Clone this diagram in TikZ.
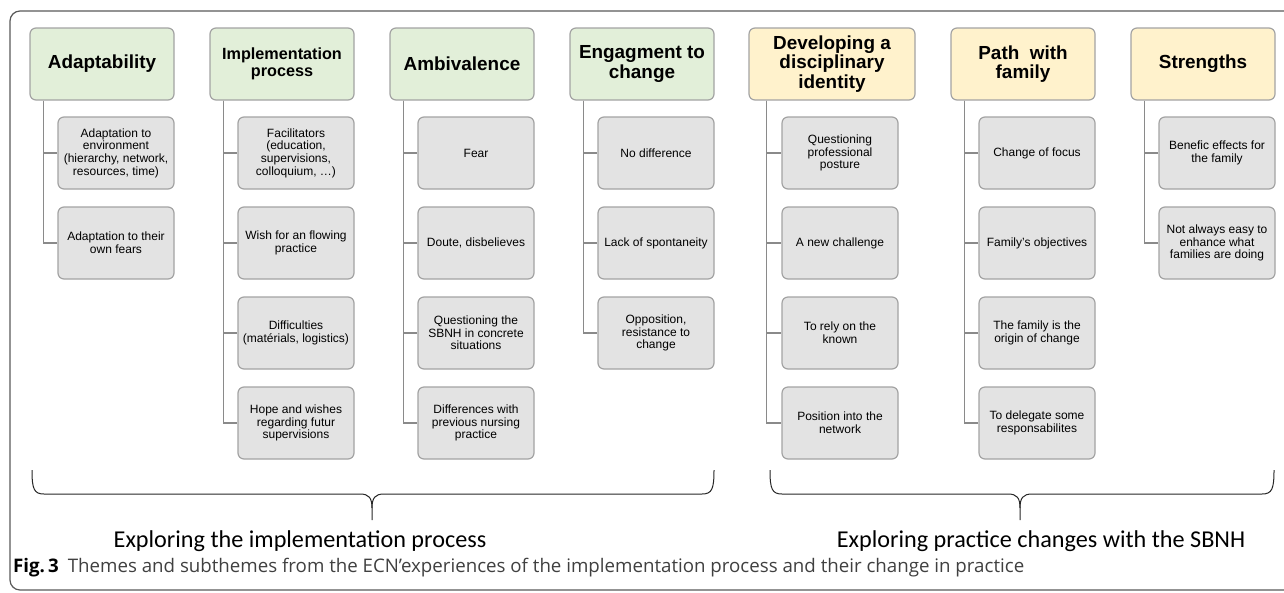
\documentclass[tikz,border=0pt]{standalone}
\usepackage{fontspec}
\setmainfont{Liberation Sans}
\newfontfamily\bracefont{Carlito}
\newfontfamily\capfont{Open Sans}
\definecolor{implfill}{HTML}{E2EFD9}
\definecolor{practfill}{HTML}{FFF2CC}
\definecolor{subfill}{HTML}{E3E3E3}
\definecolor{boxline}{HTML}{A3A3A3}
\definecolor{treeline}{HTML}{8A8A8A}

\begin{document}
\begin{tikzpicture}[x=1pt, y=-1pt,
        theme/.style={rectangle, rounded corners=6pt, draw=boxline, line width=1.2pt, minimum width=144pt, minimum height=72pt, align=center, inner sep=2pt, font=\bfseries\fontsize{18.9}{19.2}\selectfont},
        implbox/.style={theme, fill=implfill},
        practbox/.style={theme, fill=practfill},
        sub/.style={rectangle, rounded corners=6pt, draw=boxline, line width=1.2pt, fill=subfill, minimum width=116pt, minimum height=72pt, align=center, inner sep=2pt, font=\fontsize{12}{12.6}\selectfont},
        branch/.style={draw=treeline, line width=1.6pt},
        brace/.style={draw=black!85, line width=1pt}]
        \useasboundingbox (0,0) rectangle (1284,592);

        % Outer frame
        \draw[draw=black!65, line width=1.2pt, rounded corners=10pt] (10,11) rectangle (1300,590);

        % Draw themes
        \node[implbox] (1) at (102,64) {Adaptability};
        \node[implbox, font=\bfseries\fontsize{16.2}{16.8}\selectfont] (2) at (282,64) {Implementation\\process};
        \node[implbox] (3) at (462,64) {Ambivalence};
        \node[implbox] (4) at (642,64) {Engagment to\\change};
        \node[practbox, minimum width=166pt] (5) at (832,64) {Developing a\\disciplinary\\identity};
        \node[practbox] (6) at (1023,64) {Path~~with\\family};
        \node[practbox] (7) at (1203,64) {Strengths};

        % Draw subthemes
        \node[sub] (1a) at (116,153) {Adaptation to\\environment\\(hierarchy, network,\\resources, time)};
        \node[sub] (1b) at (116,243) {Adaptation to their\\own fears};

        \node[sub] (2a) at (296,153) {Facilitators\\(education,\\supervisions,\\colloquium, …)};
        \node[sub] (2b) at (296,243) {Wish for an flowing\\practice};
        \node[sub] (2c) at (296,333) {Difficulties\\(matérials, logistics)};
        \node[sub] (2d) at (296,423) {Hope and wishes\\regarding futur\\supervisions};

        \node[sub] (3a) at (476,153) {Fear};
        \node[sub] (3b) at (476,243) {Doute, disbelieves};
        \node[sub] (3c) at (476,333) {Questioning the\\SBNH in concrete\\situations};
        \node[sub] (3d) at (476,423) {Differences with\\previous nursing\\practice};

        \node[sub] (4a) at (656,153) {No difference};
        \node[sub] (4b) at (656,243) {Lack of spontaneity};
        \node[sub] (4c) at (656,333) {Opposition,\\resistance to\\change};

        \node[sub] (5a) at (840,153) {Questioning\\professional\\posture};
        \node[sub] (5b) at (840,243) {A new challenge};
        \node[sub] (5c) at (840,333) {To rely on the\\known};
        \node[sub] (5d) at (840,423) {Position into the\\network};

        \node[sub] (6a) at (1037,153) {Change of focus};
        \node[sub] (6b) at (1037,243) {Family’s objectives};
        \node[sub] (6c) at (1037,333) {The family is the\\origin of change};
        \node[sub] (6d) at (1037,423) {To delegate some\\responsabilites};

        \node[sub] (7a) at (1217,153) {Benefic effects for\\the family};
        \node[sub] (7b) at (1217,243) {Not always easy to\\enhance what\\families are doing};

        % Draw connections
        \draw[branch] ([xshift=14pt]1.south west) |- (1a.west);
        \draw[branch] ([xshift=14pt]1.south west) |- (1b.west);

        \draw[branch] ([xshift=14pt]2.south west) |- (2a.west);
        \draw[branch] ([xshift=14pt]2.south west) |- (2b.west);
        \draw[branch] ([xshift=14pt]2.south west) |- (2c.west);
        \draw[branch] ([xshift=14pt]2.south west) |- (2d.west);

        \draw[branch] ([xshift=14pt]3.south west) |- (3a.west);
        \draw[branch] ([xshift=14pt]3.south west) |- (3b.west);
        \draw[branch] ([xshift=14pt]3.south west) |- (3c.west);
        \draw[branch] ([xshift=14pt]3.south west) |- (3d.west);

        \draw[branch] ([xshift=14pt]4.south west) |- (4a.west);
        \draw[branch] ([xshift=14pt]4.south west) |- (4b.west);
        \draw[branch] ([xshift=14pt]4.south west) |- (4c.west);

        \draw[branch] ([xshift=18pt]5.south west) |- (5a.west);
        \draw[branch] ([xshift=18pt]5.south west) |- (5b.west);
        \draw[branch] ([xshift=18pt]5.south west) |- (5c.west);
        \draw[branch] ([xshift=18pt]5.south west) |- (5d.west);

        \draw[branch] ([xshift=14pt]6.south west) |- (6a.west);
        \draw[branch] ([xshift=14pt]6.south west) |- (6b.west);
        \draw[branch] ([xshift=14pt]6.south west) |- (6c.west);
        \draw[branch] ([xshift=14pt]6.south west) |- (6d.west);

        \draw[branch] ([xshift=14pt]7.south west) |- (7a.west);
        \draw[branch] ([xshift=14pt]7.south west) |- (7b.west);

        % Braces
        \draw[brace] (32,470) .. controls (32,489) and (34,494) .. (44,494) -- (360,494) .. controls (369,494) and (372,498) .. (372,508) -- (372,520);
        \draw[brace] (714,470) .. controls (714,489) and (712,494) .. (702,494) -- (384,494) .. controls (375,494) and (372,498) .. (372,508);
        \draw[brace] (770,470) .. controls (770,489) and (772,494) .. (782,494) -- (1008,494) .. controls (1017,494) and (1020,498) .. (1020,508) -- (1020,520);
        \draw[brace] (1274,470) .. controls (1274,489) and (1272,494) .. (1262,494) -- (1032,494) .. controls (1023,494) and (1020,498) .. (1020,508);

        % Labels
        \node[font=\bracefont\fontsize{24.2}{26}\selectfont] (impl) at (300,541) {Exploring the implementation process};
        \node[font=\bracefont\fontsize{24.2}{26}\selectfont] (pract) at (1041,541) {Exploring practice changes with the SBNH};
        \node[anchor=base west, inner sep=0pt, text=black!75, font=\capfont\fontsize{18.7}{20}\selectfont] (cap) at (13,572) {\textcolor{black}{\bfseries Fig.\,3}\hspace{9pt}Themes and subthemes from the ECN’experiences of the implementation process and their change in practice};
    \end{tikzpicture}
\end{document}
